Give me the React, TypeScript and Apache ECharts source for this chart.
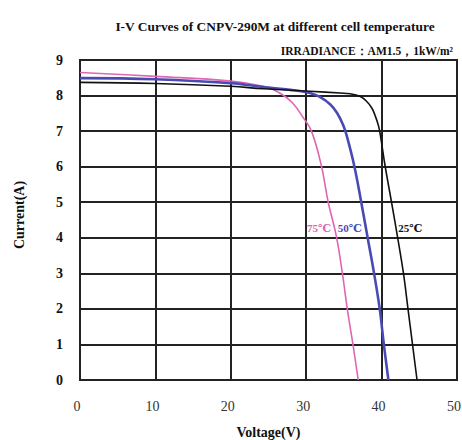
import React, { useEffect, useRef } from "react";
import * as echarts from "echarts";

const titleText = "I-V Curves of CNPV-290M at different cell temperature";
const subText = "IRRADIANCE：AM1.5，1kW/m²";
const xName = "Voltage(V)";
const yName = "Current(A)";

const curve75: [number, number][] = [
  [0, 8.65], [10, 8.54], [20, 8.41], [24.3, 8.26], [26.5, 8.07], [28.2, 7.79],
  [29.6, 7.38], [30.7, 7.0], [32.0, 6.04], [32.9, 5.02], [34.0, 4.04],
  [34.8, 3.0], [35.45, 2.0], [36.2, 1.0], [36.9, 0],
];
const curve50: [number, number][] = [
  [0, 8.49], [10, 8.46], [20, 8.35], [24.3, 8.24], [27.9, 8.16], [30.5, 8.07],
  [31.8, 7.96], [33.2, 7.75], [34.1, 7.51], [34.9, 7.17], [35.4, 6.85],
  [36.4, 6.0], [37.3, 5.0], [38.15, 4.0], [39.0, 3.0], [39.75, 2.0],
  [40.3, 1.0], [40.9, 0],
];
const curve25: [number, number][] = [
  [0, 8.37], [10, 8.34], [20, 8.26], [24.3, 8.19], [30.5, 8.12], [34.5, 8.07],
  [35.8, 8.05], [37.1, 7.98], [38.0, 7.84], [38.7, 7.65], [39.1, 7.46],
  [39.6, 7.14], [39.9, 6.8], [40.45, 6.04], [41.3, 5.02], [42.1, 4.04],
  [42.9, 3.0], [43.5, 2.0], [44.1, 1.0], [44.7, 0],
];
const seriesNames = ["75℃", "50℃", "25℃"];
const seriesColors = ["#e066b4", "#4a4ab4", "#111111"];
const seriesWidths = [1.6, 2.6, 1.6];
const labelPos: [number, number][] = [[31.7, 4.28], [35.8, 4.28], [43.8, 4.28]];

const serif = "'Times New Roman', 'Liberation Serif', 'DejaVu Serif', serif";

export default function App() {
  const ref = useRef<HTMLDivElement>(null);
  useEffect(() => {
    document.body.style.margin = "0";
    const chart = echarts.init(ref.current!, null, { renderer: "svg" });
    const data = [curve75, curve50, curve25];
    chart.setOption({
      animation: false,
      backgroundColor: "#ffffff",
      title: [
        {
          text: titleText,
          left: 270,
          top: 15,
          textAlign: "center",
          textStyle: { fontFamily: serif, fontWeight: "bold", fontSize: 13.4, color: "#111" },
        },
        {
          text: subText,
          right: 4,
          top: 40,
          textStyle: { fontFamily: serif, fontWeight: "bold", fontSize: 11.5, color: "#111" },
        },
      ],
      grid: { left: 80, right: 5, top: 60, bottom: 60, outerBoundsMode: "none", containLabel: false },
      xAxis: {
        type: "value",
        min: 0,
        max: 50,
        interval: 10,
        name: xName,
        nameLocation: "middle",
        nameGap: 45,
        nameTextStyle: { fontFamily: serif, fontWeight: "bold", fontSize: 14, color: "#111" },
        axisLine: { show: true, lineStyle: { color: "#222", width: 2 } },
        axisTick: { show: false },
        axisLabel: { margin: 19, fontFamily: serif, fontSize: 14, color: "#333", padding: [0, 6, 0, 0] },
        splitLine: { show: true, lineStyle: { color: "#222", width: 2 } },
      },
      yAxis: {
        type: "value",
        min: 0,
        max: 9,
        interval: 1,
        name: yName,
        nameLocation: "middle",
        nameGap: 54,
        nameTextStyle: { fontFamily: serif, fontWeight: "bold", fontSize: 14, color: "#111", padding: [0, 0, 0, 10] },
        axisLine: { show: true, lineStyle: { color: "#222", width: 2 } },
        axisTick: { show: false },
        axisLabel: { margin: 17, fontFamily: serif, fontWeight: "bold", fontSize: 14, color: "#111" },
        splitLine: { show: true, lineStyle: { color: "#222", width: 2 } },
      },
      graphic: [
        {
          type: "rect",
          shape: { x: 80, y: 60, width: 377, height: 320 },
          style: { fill: "none", stroke: "#222", lineWidth: 2 },
          silent: true,
          z: 0,
        },
      ],
      series: data.map((d, i) => ({
        type: "line",
        name: seriesNames[i],
        data: d,
        smooth: 0.4,
        showSymbol: false,
        lineStyle: { color: seriesColors[i], width: seriesWidths[i] },
        z: 5 + i,
        markPoint: {
          symbol: "circle",
          symbolSize: 0,
          data: [
            {
              coord: labelPos[i],
              label: {
                show: true,
                formatter: seriesNames[i],
                fontFamily: serif,
                fontWeight: "bold",
                fontSize: 11,
                color: seriesColors[i],
                position: "inside",
              },
            },
          ],
        },
      })),
    });
    return () => chart.dispose();
  }, []);
  return <div ref={ref} style={{ width: 462, height: 440 }} />;
}
